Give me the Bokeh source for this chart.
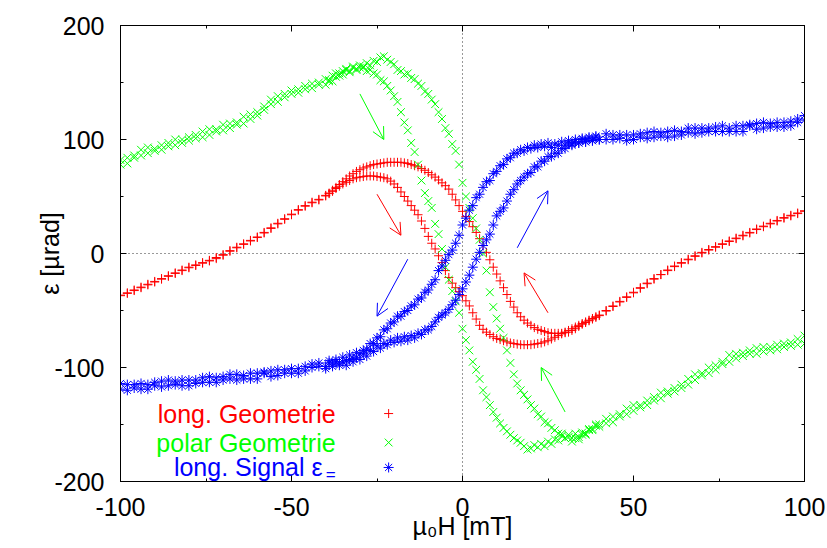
from bokeh.plotting import figure
from bokeh.models import (SingleIntervalTicker, LinearAxis, Span, Arrow, OpenHead, Range1d)
from bokeh.core.properties import value
from bokeh.embed import file_html
from bokeh.resources import INLINE

# ---------------- data ----------------
# field sweep grid [mT]
X = list(range(-100, -40, 2)) + list(range(-40, 41)) + list(range(42, 101, 2))

# long. Geometrie (red), two sweep branches
RED_A = [-37, -35, -32.5, -30, -27.5, -25, -22.5, -20, -17.5, -15,
         -12.5, -10.5, -8.5, -6.5, -4.5, -1.5, 2, 5, 8, 11,
         14, 18, 22, 26, 30, 34, 38, 42, 45, 47.5] + \
        [51, 53, 55.5, 58, 60.5, 63, 65.5, 68, 70, 72,
         73.5, 75, 76, 77, 78, 78.5, 79, 79.5, 80, 80,
         80, 80, 80, 79.5, 79, 78, 77, 76, 74.5, 73,
         71, 69, 67, 64.5, 62, 59.5, 56.5, 52, 47, 42,
         37, 32.5, 28, 23.5, 18.5, 13, 7, 1, -5.5, -12,
         -18, -24, -30, -36, -42, -47, -52, -55.5, -58.5, -61,
         -63, -65, -66.5, -67.5, -68.5, -69.5, -70, -70, -70, -70,
         -69.5, -69, -67.5, -66, -64, -62, -60.5, -59, -57.5, -56, -54] + \
        [-50.5, -46.5, -42.5, -38.5, -34.5, -30.5, -26.5, -22.5, -18.5, -15,
         -11.5, -8.5, -5.5, -2.5, 0.5, 3, 5.5, 8, 10.5, 13,
         15.5, 18, 21, 23.5, 26, 28.5, 31, 33, 35, 37]
RED_B = [-36.5, -34.5, -32, -29.5, -27, -24.5, -22, -19.5, -17, -14.5,
         -12, -10, -8, -6, -3.5, -1, 2.5, 5.5, 8.5, 11.5,
         14.5, 18.5, 22.5, 26.5, 30.5, 34.5, 38.5, 41.5, 44.5, 47] + \
        [50.5, 52.5, 54.5, 57, 59, 61, 62.5, 64, 65.5, 66.5,
         67, 67.5, 68, 68, 68, 67.5, 67, 66.5, 65.5, 63.5,
         61, 58, 54, 50, 46, 42, 38, 34, 28.5, 22,
         15, 9, 4, -2, -8, -15, -21, -26, -30, -33.5,
         -37, -41.5, -46, -52, -57.5, -63, -66.5, -69, -71, -73,
         -74.5, -75.5, -76.5, -77.5, -78.5, -79, -79.5, -80, -80, -80,
         -80, -79.5, -79, -78.5, -77.5, -76.5, -75, -73.5, -72, -70.5,
         -69, -67.5, -66, -64.5, -63, -61.5, -60, -58.5, -57, -55.5, -54.5] + \
        [-50, -46, -42, -38, -34, -30, -26, -22, -18.5, -14.5,
         -11, -8, -5, -2, 1, 3.5, 6, 8.5, 11, 13.5,
         16, 18.5, 21.5, 24, 26.5, 29, 31.5, 33.5, 35.5, 37.5]

# polar Geometrie (green)
GREEN_A = [82, 79, 86, 91, 88, 92, 95, 94, 100, 97,
           102, 101, 107, 104, 109, 113, 110, 115, 120, 118,
           121, 129, 135, 133, 140, 140, 144, 147, 145, 150] + \
          [153, 151, 156, 158, 156, 160, 162, 160, 164, 162,
           165, 163, 167, 165, 169, 168, 172, 173, 170, 168,
           166, 161, 160, 157, 158, 154, 153, 149, 147, 142,
           140, 135, 131, 124, 118, 110, 105, 96, 90, 78,
           62, 50, 40, 31, 22, 12, 0, -15, -34, -47,
           -57, -66, -74, -85, -96, -106, -114, -120, -124, -128,
           -133, -136, -141, -143, -148, -149, -153, -155, -158, -158,
           -162, -161, -165, -162, -163, -159, -159, -155, -154, -150, -150] + \
          [-145, -148, -141, -136, -138, -133, -129, -129, -122, -123,
           -118, -118, -110, -111, -105, -100, -102, -95, -89, -92,
           -87, -88, -83, -86, -82, -80, -82, -78, -80, -72]
GREEN_B = [78, 84, 84, 86, 93, 90, 91, 97, 95, 100,
           99, 104, 102, 109, 107, 108, 114, 113, 114, 122,
           124, 126, 131, 138, 137, 143, 141, 144, 149, 148] + \
          [148, 152, 151, 155, 158, 157, 161, 159, 163, 161,
           163, 164, 160, 161, 158, 157, 152, 151, 147, 143,
           138, 133, 124, 115, 108, 97, 89, 78, 64, 53,
           46, 40, 26, 17, 4, -12, -23, -33, -42, -52,
           -66, -76, -85, -95, -102, -110, -120, -126, -133, -139,
           -144, -149, -153, -156, -159, -162, -164, -166, -169, -172,
           -171, -168, -170, -167, -169, -165, -167, -163, -164, -160,
           -162, -159, -162, -158, -161, -157, -158, -154, -155, -151, -152] + \
          [-149, -143, -143, -141, -133, -135, -133, -126, -127, -121,
           -121, -115, -115, -106, -107, -105, -98, -97, -95, -88,
           -90, -85, -88, -82, -85, -84, -79, -81, -75, -79]

# long. Signal (blue)
BLUE_A = [-114, -120, -115, -119, -115, -113, -117, -111, -115, -111,
          -116, -111, -109, -113, -109, -111, -106, -111, -107, -110,
          -105, -105, -108, -102, -105, -101, -105, -99, -97, -99] + \
         [-99, -94, -97, -93, -96, -91, -94, -89, -92, -87,
          -88, -85, -84, -79, -79, -74, -73, -67, -66, -61,
          -60, -55, -55, -51, -50, -46, -45, -40, -39, -34,
          -32, -27, -23, -15, -11, -6, -1, 3, 9, 16,
          25, 31, 38, 42, 49, 52, 58, 63, 64, 70,
          72, 77, 78, 83, 84, 88, 88, 91, 90, 93,
          92, 95, 93, 96, 94, 97, 93, 96, 95, 98,
          95, 99, 96, 100, 97, 101, 98, 102, 99, 103, 100] + \
         [105, 100, 104, 99, 104, 105, 101, 107, 103, 107,
          103, 107, 110, 105, 110, 107, 111, 107, 110, 107,
          112, 112, 109, 115, 111, 115, 111, 116, 118, 117]
BLUE_B = [-119, -115, -118, -114, -119, -116, -112, -116, -112, -116,
          -111, -114, -113, -108, -113, -108, -110, -106, -110, -105,
          -110, -104, -103, -107, -102, -105, -101, -103, -100, -96] + \
         [-101, -96, -99, -95, -98, -95, -98, -93, -95, -91,
          -93, -88, -90, -85, -86, -81, -83, -79, -80, -76,
          -78, -74, -77, -73, -76, -72, -74, -70, -71, -67,
          -67, -64, -60, -56, -54, -52, -49, -45, -41, -36,
          -31, -25, -19, -12, -5, 1, 7, 12, 17, 25,
          33, 37, 40, 46, 52, 56, 61, 64, 67, 70,
          71, 76, 76, 81, 81, 85, 85, 88, 88, 92,
          92, 97, 95, 98, 97, 100, 98, 101, 99, 102, 100] + \
         [100, 104, 101, 104, 100, 102, 106, 102, 106, 102,
          108, 104, 106, 110, 106, 110, 107, 112, 107, 112,
          107, 113, 114, 110, 114, 111, 115, 112, 115, 121]

SERIES = [
    ("long. Geometrie", "#ff0000", "cross", 9, [RED_A, RED_B]),
    ("polar Geometrie", "#00ff00", "x", 11, [GREEN_A, GREEN_B]),
    ("long. Signal ε", "#0000ff", "asterisk", 10, [BLUE_A, BLUE_B]),
]

X_TICKS = [-100, -50, 0, 50, 100]
Y_TICKS = [-200, -100, 0, 100, 200]

# sweep-direction arrows (x0, y0, x1, y1, colour)
ARROWS = [
    (-30, 140, -23, 100, "#00ff00"),
    (-25, 52, -18, 16, "#ff0000"),
    (-16, -5, -25, -55, "#0000ff"),
    (16, 5, 25, 55, "#0000ff"),
    (25, -52, 18, -17, "#ff0000"),
    (30, -139, 23, -100, "#00ff00"),
]

FONT = "Liberation Sans"

# ---------------- figure ----------------
p = figure(width=825, height=546, x_range=Range1d(-100, 100), y_range=Range1d(-200, 200),
           output_backend="svg", toolbar_location=None,
           min_border_left=120, min_border_right=21, min_border_top=25, min_border_bottom=65)
p.background_fill_color = "white"
p.border_fill_color = "white"
p.outline_line_color = "black"
p.outline_line_width = 1
p.xgrid.visible = False
p.ygrid.visible = False

p.add_layout(LinearAxis(), "above")
p.add_layout(LinearAxis(), "right")

for ax in p.xaxis:
    ax.ticker = SingleIntervalTicker(interval=50, num_minor_ticks=2)
for ax in p.yaxis:
    ax.ticker = SingleIntervalTicker(interval=100, num_minor_ticks=2)
for ax in list(p.xaxis) + list(p.yaxis):
    ax.major_tick_in = 6
    ax.major_tick_out = 0
    ax.minor_tick_in = 3
    ax.minor_tick_out = 0
    ax.axis_line_color = "black"
    ax.major_tick_line_color = "black"
    ax.minor_tick_line_color = "black"
    ax.major_label_text_font = FONT
    ax.major_label_text_color = "black"

# mirrored axes: ticks only
p.above[0].major_label_overrides = {t: "" for t in X_TICKS}
p.right[0].major_label_overrides = {t: "" for t in Y_TICKS}
p.above[0].major_label_standoff = 0
p.right[0].major_label_standoff = 0

bx, ly = p.below[0], p.left[0]
bx.major_label_overrides = {t: str(t) for t in X_TICKS}
ly.major_label_overrides = {t: str(t) for t in Y_TICKS}
for ax in (bx, ly):
    ax.major_label_text_font_size = "25px"
    ax.major_label_standoff = 16
    ax.axis_label_text_font = FONT
    ax.axis_label_text_font_size = "25px"
    ax.axis_label_text_font_style = "normal"
    ax.axis_label_text_color = "black"

ly.axis_label = "ε [µrad]"
ly.axis_label_standoff = -13

bx.axis_label = "µ₀H [mT]"
bx.axis_label_standoff = -7

# zero lines
p.add_layout(Span(location=0, dimension="height", line_color="black", line_width=1,
                  line_dash="1 3", line_alpha=0.8, level="underlay"))
p.add_layout(Span(location=0, dimension="width", line_color="black", line_width=1,
                  line_dash="1 3", line_alpha=0.8, level="underlay"))

# data
for name, color, marker, msize, branches in SERIES:
    for ys in branches:
        n = min(len(X), len(ys))
        p.scatter(X[:n], ys[:n], marker=marker, size=msize, line_color=color,
                  fill_color=None, line_width=1)

# arrows
for x0, y0, x1, y1, c in ARROWS:
    p.add_layout(Arrow(end=OpenHead(size=12, line_color=c, line_width=1),
                       x_start=x0, y_start=y0, x_end=x1, y_end=y1,
                       line_color=c, line_width=1))

# legend (text right-aligned, sample to its right)
LEG_TEXT_X = -37.1
LEG_MARK_X = -21.6
LEG_Y = [-140.4, -165.8, -187.7]
for (name, color, marker, msize, _), yy in zip(SERIES, LEG_Y):
    tx = LEG_TEXT_X if marker != "asterisk" else LEG_TEXT_X - 3.8
    p.text(x=[tx], y=[yy], text=[name], text_align="right", text_baseline="middle",
           text_color=color, text_font=value(FONT), text_font_size="25px")
    p.scatter([LEG_MARK_X], [yy], marker=marker, size=msize, line_color=color,
              fill_color=None, line_width=1)
p.text(x=[LEG_TEXT_X], y=[LEG_Y[2] - 6], text=["="], text_align="right",
       text_baseline="middle", text_color="#0000ff", text_font=value(FONT),
       text_font_size="17px")

open("out.html", "w").write(file_html(p, INLINE))
